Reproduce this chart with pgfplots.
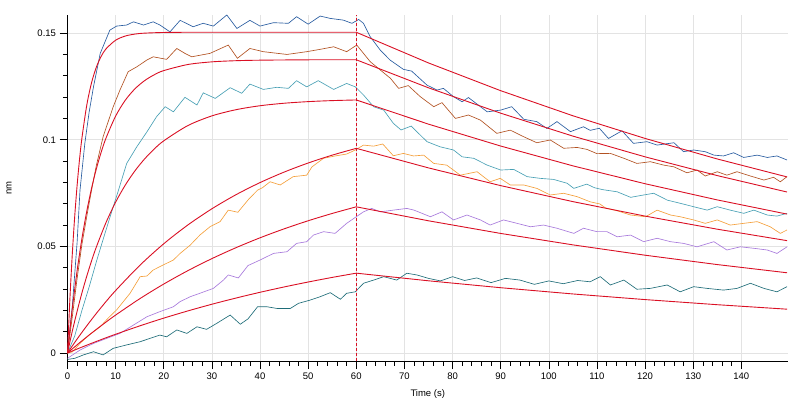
\documentclass[border=0pt]{standalone}
\usepackage{pgfplots}
\pgfplotsset{compat=1.18}
\usepackage{fontspec}
\setmainfont{Liberation Sans}
\definecolor{cblue}{RGB}{40,92,160}
\definecolor{cbrown}{RGB}{178,82,34}
\definecolor{cteal}{RGB}{72,160,180}
\definecolor{corange}{RGB}{244,160,60}
\definecolor{cpurple}{RGB}{168,122,220}
\definecolor{cdteal}{RGB}{30,108,120}
\definecolor{cfit}{RGB}{218,16,36}
\begin{document}
\begin{tikzpicture}
\begin{axis}[name=ax, at={(0,0)}, anchor=south west, scale only axis,
  width=720.5pt, height=346pt,
  xmin=0, xmax=149.7, ymin=-0.00375, ymax=0.1585,
  axis x line=bottom, axis y line=left,
  axis line style={black, line width=0.8pt, -},
  xtick={0,10,...,140}, minor x tick num=4,
  ytick={0,0.05,0.1,0.15}, yticklabels={0,0.05,0.1,0.15}, minor y tick num=4,
  grid=major, major grid style={draw=black!11, line width=0.6pt},
  tick align=outside, major tick length=8pt, minor tick length=4.5pt,
  tick style={black, line width=0.6pt},
  tick label style={font=\fontsize{9.5}{11}\selectfont},
  /pgf/number format/assume math mode=true,
  scaled y ticks=false,
  xlabel={Time (s)}, ylabel={nm},
  label style={font=\fontsize{9.5}{11}\selectfont},
  xlabel style={at={(axis description cs:0.5,-0.0954)}, anchor=center},
  ylabel style={at={(axis description cs:-0.0812,0.5)}, anchor=center},
  data/.style={line width=0.65pt},
  fit/.style={cfit, line width=0.9pt},
]
% ---------------- data ----------------
\addplot[data, cblue] coordinates {(0,0) (1,0.022) (2,0.052) (2.6,0.0764) (3.6,0.0983) (4.5,0.113) (5.4,0.1248) (6.8,0.1405) (8.8,0.1514) (10.2,0.1533) (12.3,0.1538) (13.7,0.1553) (15.8,0.1538) (17.8,0.1553) (19.2,0.1538) (21.3,0.1506) (23.4,0.1560) (26.1,0.1530) (28.2,0.1546) (30.3,0.1533) (33.1,0.1585) (35.2,0.1522) (37.9,0.1560) (40,0.1533) (42.8,0.1549) (45.9,0.1546) (47.6,0.1577) (50,0.1542) (52.5,0.1580) (54.6,0.1569) (57.3,0.1561) (59.1,0.1546) (60.5,0.1564) (61.5,0.1546) (62.9,0.1483) (65,0.1420) (67,0.1374) (69.8,0.1330) (71.5,0.1322) (74.7,0.1256) (76.8,0.1233) (78.1,0.1241) (80.2,0.1202) (82,0.1178) (83.3,0.1198) (87.2,0.1131) (90,0.1139) (92.3,0.1155) (94.8,0.1096) (97.5,0.1085) (99.6,0.1053) (101.7,0.1085) (104.5,0.1038) (107.2,0.1061) (108.6,0.1044) (110.5,0.1054) (112.4,0.1006) (115.2,0.1042) (117.6,0.0983) (120.4,0.0991) (122.5,0.0975) (126,0.0986) (128,0.0944) (130.1,0.0952) (132.5,0.0944) (134.3,0.0928) (136.3,0.0924) (138.4,0.0939) (140.5,0.0917) (143.3,0.0928) (145.4,0.0917) (147.4,0.0924) (149.5,0.0905)};
\addplot[data, cbrown] coordinates {(0,0) (1,0.017) (2,0.035) (3,0.051) (4,0.064) (5,0.0764) (6,0.088) (7.4,0.1014) (9.5,0.1155) (10.9,0.1233) (12.6,0.1319) (14.4,0.1342) (16.5,0.1374) (17.8,0.1389) (20.6,0.1377) (22.7,0.1428) (24.4,0.1405) (25.8,0.1389) (29.6,0.1405) (33.4,0.1444) (35.3,0.1382) (37.9,0.1428) (40.7,0.1413) (45.6,0.1400) (49.7,0.1413) (52.5,0.1424) (55.3,0.1436) (58,0.1413) (60.1,0.1444) (61.5,0.1405) (62.9,0.1366) (65,0.1327) (67.1,0.1288) (68.8,0.1241) (70.8,0.1254) (73.3,0.1202) (76.1,0.1155) (77.8,0.1174) (80.6,0.1100) (83.3,0.1116) (85.8,0.1092) (89.2,0.1030) (92,0.1045) (94.8,0.1014) (97.5,0.0986) (100.3,0.0999) (103.1,0.0960) (105.9,0.0964) (107.9,0.0955) (110,0.0935) (112.8,0.0936) (115.6,0.0913) (118.3,0.0889) (121.1,0.0897) (123.9,0.0881) (126,0.0873) (128.7,0.0845) (130.8,0.0858) (132.5,0.0830) (135,0.0850) (137,0.0834) (139.1,0.0850) (141.9,0.0830) (144.7,0.0811) (146.7,0.0824) (148.1,0.0803) (149.5,0.0827)};
\addplot[data, cteal] coordinates {(0,0) (1.5,0.008) (3,0.020) (4.5,0.031) (6.1,0.0436) (7.5,0.054) (9,0.065) (10.6,0.0764) (12.3,0.0889) (14.4,0.0967) (16.5,0.1037) (18.5,0.1108) (20.3,0.1155) (22,0.1131) (24.4,0.1199) (26.9,0.1163) (28.2,0.1220) (30.7,0.1194) (33.8,0.1244) (36.2,0.1218) (37.9,0.1261) (40.7,0.1236) (43.5,0.1246) (45.9,0.1241) (47.6,0.1277) (49.7,0.1248) (52.1,0.1277) (55.3,0.1236) (58,0.1264) (59.8,0.1248) (61.5,0.1210) (63.6,0.1155) (65.7,0.1139) (67.7,0.1077) (69.3,0.1046) (71.4,0.1064) (74.7,0.0991) (77.4,0.0967) (80.2,0.0952) (82,0.0920) (84.4,0.0913) (87.2,0.0881) (90,0.0858) (92.7,0.0861) (95.5,0.0827) (98.2,0.0819) (101,0.0814) (103.8,0.0796) (105.2,0.0772) (107.9,0.0792) (109.5,0.0775) (111.2,0.0766) (114.2,0.0756) (117,0.0730) (119.7,0.0741) (121.8,0.0749) (124.6,0.0717) (127.3,0.0702) (130.1,0.0686) (132.9,0.0670) (135,0.0686) (137.7,0.0670) (140.5,0.0655) (142.6,0.0670) (145.4,0.0647) (147.4,0.0642) (149.5,0.0655)};
\addplot[data, corange] coordinates {(0,0) (1,0.0005) (2.6,0.0045) (4.5,0.0085) (6.8,0.0123) (8.5,0.0165) (10.2,0.0202) (13,0.0280) (15.1,0.0358) (16.5,0.0361) (17.8,0.0389) (19.9,0.0413) (22,0.0436) (23.4,0.0467) (25.5,0.0506) (27.5,0.0553) (29.6,0.0592) (31.7,0.0616) (33.4,0.0670) (35.4,0.0660) (37.6,0.0720) (39.5,0.0764) (40.5,0.0775) (42.1,0.0803) (44.2,0.0788) (46.9,0.0827) (49.7,0.0834) (50.8,0.0873) (53.2,0.0913) (55.6,0.0924) (58,0.0933) (59.8,0.0952) (61.5,0.0975) (63.6,0.0970) (65.5,0.0980) (67.7,0.0925) (69.8,0.0936) (71.9,0.0924) (74,0.0928) (76.1,0.0889) (78.8,0.0881) (81.6,0.0834) (85.1,0.0850) (87.8,0.0803) (89.9,0.0819) (92,0.0788) (94.8,0.0788) (97.5,0.0772) (100.3,0.0741) (103.1,0.0749) (105.9,0.0733) (108.6,0.0709) (110.6,0.0699) (111.8,0.0680) (114.2,0.0667) (117,0.0647) (120.1,0.0639) (122.5,0.0670) (125.3,0.0647) (127.3,0.0639) (130.1,0.0624) (132.5,0.0608) (135,0.0624) (137.7,0.0600) (140.5,0.0608) (143.3,0.0616) (146,0.0592) (148.1,0.0561) (149.5,0.0577)};
\addplot[data, cpurple] coordinates {(0,-0.0025) (2.6,0.0014) (5.4,0.0045) (8.2,0.0069) (10.9,0.0092) (13.7,0.0131) (16.5,0.0170) (19.2,0.0194) (22,0.0217) (23.4,0.0241) (25.5,0.0264) (27.5,0.0280) (30.3,0.0303) (32.4,0.0342) (33.4,0.0366) (35.5,0.0352) (37.5,0.0410) (40,0.0436) (42.8,0.0467) (45.6,0.0475) (47.6,0.0514) (49.7,0.0522) (51.1,0.0553) (53.2,0.0569) (55.6,0.0561) (58,0.0608) (59.8,0.0636) (61.5,0.0662) (63.2,0.0678) (65,0.0662) (67.7,0.0670) (70.5,0.0678) (72,0.0670) (75.4,0.0639) (77.8,0.0662) (80.2,0.0624) (83,0.0647) (85.8,0.0624) (87.8,0.0600) (90.6,0.0624) (93.4,0.0608) (96.2,0.0592) (98.9,0.0600) (101.7,0.0585) (105.2,0.0561) (107.2,0.0585) (108.6,0.0577) (110,0.0569) (112.1,0.0569) (114.2,0.0545) (117,0.0553) (119.7,0.0522) (122.5,0.0538) (125.3,0.0522) (128,0.0514) (130.8,0.0498) (134.3,0.0522) (137,0.0483) (139.8,0.0498) (142.6,0.0491) (145.4,0.0483) (147.4,0.0467) (149.5,0.0498)};
\addplot[data, cdteal] coordinates {(0,-0.003) (1.5,-0.0025) (3.3,-0.0009) (5.4,0.0006) (7.4,-0.0009) (9.5,0.0022) (12.3,0.0038) (15.1,0.0053) (17.2,0.0069) (19.2,0.0084) (20.6,0.0076) (22.7,0.0108) (24.8,0.0092) (26.9,0.0123) (28.9,0.0111) (31,0.0139) (33.8,0.0178) (35.9,0.0135) (37.5,0.0160) (39.5,0.0217) (41.4,0.0217) (43.5,0.0209) (46.3,0.0209) (48,0.0233) (50.4,0.0248) (52.5,0.0264) (54.6,0.0283) (56.7,0.0252) (58,0.0280) (59.8,0.0287) (61.5,0.0327) (63.6,0.0342) (65.7,0.0358) (68.4,0.0342) (70.5,0.0374) (72.6,0.0366) (75,0.0350) (77.5,0.0338) (80,0.0358) (82.5,0.0340) (85,0.0352) (88,0.0330) (91,0.0350) (94,0.0342) (97,0.0322) (100,0.0338) (103,0.0325) (106,0.0340) (108.6,0.0334) (110.7,0.0358) (112.8,0.0319) (115.6,0.0342) (118.3,0.0299) (121.1,0.0303) (124.6,0.0319) (127.3,0.0287) (130.1,0.0311) (132.9,0.0303) (136.3,0.0295) (139.1,0.0303) (141.9,0.0327) (144.7,0.0303) (147.4,0.0287) (149.5,0.0311)};
% ---------------- fits ----------------
\addplot[fit, smooth] coordinates {(0,0) (0.5,0.0254) (1,0.04652) (1.5,0.0641) (2,0.07864) (2.5,0.0908) (3,0.10083) (4,0.11617) (5,0.12676) (6,0.13407) (7,0.13912) (8,0.14261) (10,0.14668) (12,0.14863) (14,0.14955) (16,0.14999) (20,0.15031) (25,0.1504) (30,0.1504) (40,0.1504) (50,0.1504) (60,0.1504)};
\addplot[fit] coordinates {(60,0.1504) (75,0.13602) (90,0.12301) (105,0.11125) (120,0.10062) (135,0.09099) (149.5,0.08257)};
\addplot[fit, smooth] coordinates {(0,0) (0.5,0.01089) (1,0.02091) (2,0.03865) (3,0.05368) (4,0.06643) (5,0.07725) (6,0.08641) (7,0.09417) (8,0.10077) (10,0.11110) (12,0.11851) (14,0.12385) (16,0.12768) (18,0.13045) (20,0.13243) (25,0.13528) (30,0.13653) (35,0.13707) (40,0.13731) (50,0.13749) (60,0.1375)};
\addplot[fit] coordinates {(60,0.1375) (75,0.12436) (90,0.11246) (105,0.10171) (120,0.09199) (135,0.08319) (149.5,0.07549)};
\addplot[fit, smooth] coordinates {(0,0) (1,0.01026) (2,0.01963) (3,0.02820) (4,0.03603) (5,0.04320) (6,0.04974) (8,0.06117) (10,0.07073) (12,0.07872) (14,0.08538) (16,0.09096) (18,0.09561) (20,0.09950) (25,0.10664) (30,0.11119) (35,0.11409) (40,0.11595) (45,0.11712) (50,0.11788) (55,0.11836) (60,0.11866)};
\addplot[fit] coordinates {(60,0.11866) (75,0.10732) (90,0.09705) (105,0.08777) (120,0.07938) (135,0.07179) (149.5,0.06514)};
\addplot[fit, smooth] coordinates {(0,0) (2,0.00656) (4,0.01274) (6,0.01859) (8,0.02411) (10,0.02930) (15,0.04105) (20,0.05123) (25,0.06003) (30,0.06763) (35,0.07422) (40,0.07991) (45,0.08483) (50,0.08909) (55,0.09278) (60,0.09597)};
\addplot[fit] coordinates {(60,0.09597) (75,0.08680) (90,0.07849) (105,0.07099) (120,0.06420) (135,0.05806) (149.5,0.05269)};
\addplot[fit, smooth] coordinates {(0,0) (2,0.00385) (4,0.00754) (6,0.01109) (8,0.01451) (10,0.01779) (15,0.02543) (20,0.03234) (25,0.03860) (30,0.04426) (35,0.04938) (40,0.05402) (45,0.05821) (50,0.06201) (55,0.06544) (60,0.06855)};
\addplot[fit] coordinates {(60,0.06855) (75,0.06200) (90,0.05607) (105,0.05071) (120,0.04586) (135,0.04147) (149.5,0.03763)};
\addplot[fit, smooth] coordinates {(0,0) (2,0.00187) (4,0.00367) (6,0.00543) (8,0.00714) (10,0.00879) (15,0.01271) (20,0.01636) (25,0.01973) (30,0.02287) (35,0.02577) (40,0.02847) (45,0.03097) (50,0.03329) (55,0.03545) (60,0.03744)};
\addplot[fit] coordinates {(60,0.03744) (75,0.03386) (90,0.03062) (105,0.02769) (120,0.02505) (135,0.02265) (149.5,0.02055)};
% vertical dashed marker
\addplot[cfit, line width=0.8pt, dash pattern=on 3pt off 2pt] coordinates {(60,-0.00375) (60,0.1585)};
\end{axis}
\pgfresetboundingbox
\path (ax.south west) ++(-67.5pt,-41pt) rectangle ++(802pt,402pt);
\end{tikzpicture}
\end{document}
